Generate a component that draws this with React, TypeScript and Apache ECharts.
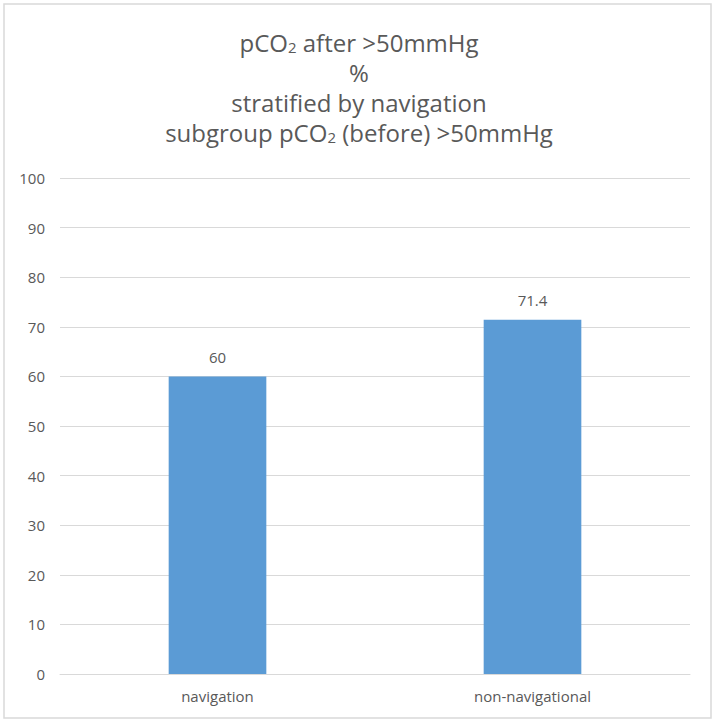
import React, { useEffect, useRef } from "react";
import * as echarts from "echarts";

const categories = ["navigation", "non-navigational"];
const values = [60, 71.4];
const yTicks = { min: 0, max: 100, interval: 10 };

const FONT = "'Open Sans', 'Noto Sans', sans-serif";
const GRAY = "#595959";

export default function App() {
  const ref = useRef<HTMLDivElement>(null);
  useEffect(() => {
    const chart = echarts.init(ref.current!, null, { renderer: "svg" });
    chart.setOption({
      animation: false,
      backgroundColor: "#ffffff",
      title: {
        text: "pCO{sub|2} after >50mmHg\n%\nstratified by navigation\nsubgroup pCO{sub|2} (before) >50mmHg",
        left: "center",
        top: 22,
        textStyle: {
          fontFamily: FONT,
          fontSize: 24,
          fontWeight: "normal",
          color: GRAY,
          lineHeight: 30,
          rich: {
            sub: {
              fontFamily: FONT,
              fontSize: 15,
              color: GRAY,
              lineHeight: 30,
              padding: [10, 0, 0, 0],
            },
          },
        },
      },
      graphic: [
        {
          type: "rect",
          shape: { x: 4, y: 4, width: 707, height: 714 },
          style: { fill: "none", stroke: "#d9d9d9", lineWidth: 1.5 },
          silent: true,
        },
      ],
      grid: { left: 60, right: 28, top: 178, bottom: 52 },
      xAxis: {
        type: "category",
        data: categories,
        axisLine: { lineStyle: { color: "#d9d9d9", width: 1 } },
        axisTick: { show: false },
        axisLabel: { fontFamily: FONT, fontSize: 15, color: GRAY, margin: 14 },
      },
      yAxis: {
        type: "value",
        min: yTicks.min,
        max: yTicks.max,
        interval: yTicks.interval,
        axisLine: { show: false },
        axisTick: { show: false },
        axisLabel: { fontFamily: FONT, fontSize: 15, color: GRAY, margin: 15 },
        splitLine: { lineStyle: { color: "#d9d9d9", width: 1 } },
      },
      series: [
        {
          type: "bar",
          data: values,
          barWidth: "31%",
          itemStyle: { color: "#5b9bd5" },
          label: {
            show: true,
            position: "top",
            distance: 12,
            fontFamily: FONT,
            fontSize: 15,
            color: GRAY,
          },
        },
      ],
    });
    return () => chart.dispose();
  }, []);
  return (
    <div
      ref={ref}
      style={{ position: "fixed", left: 0, top: 0, width: 718, height: 726 }}
    />
  );
}
